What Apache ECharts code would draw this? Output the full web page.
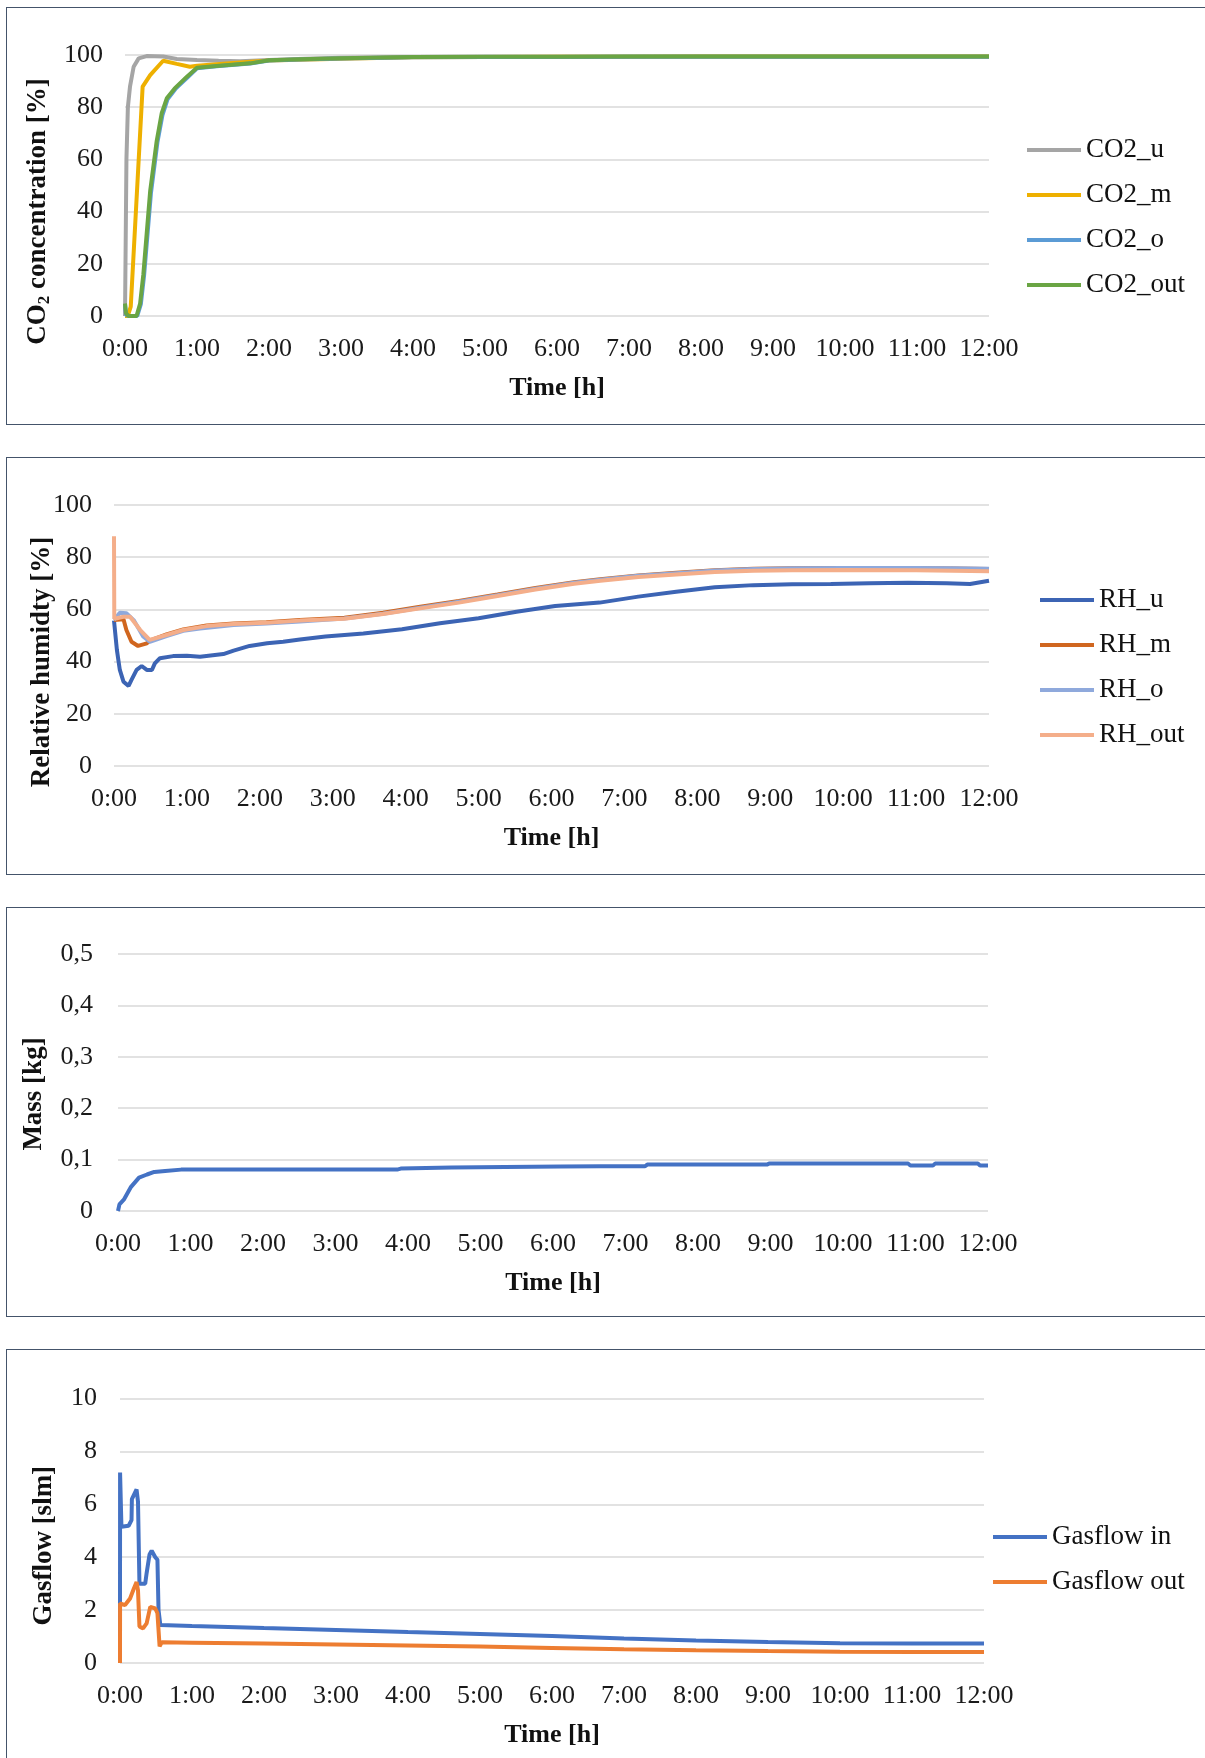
<!DOCTYPE html>
<html>
<head>
<meta charset="utf-8">
<script src="https://cdn.jsdelivr.net/npm/echarts@6/dist/echarts.min.js"></script>
<style>
  html, body { margin: 0; padding: 0; background: #fff; overflow: hidden; }
  .box { position: absolute; left: 6px; width: 1220px; border: 1.5px solid #44546a; box-sizing: border-box; }
  #chart { position: absolute; left: 0; top: 0; width: 1205px; height: 1758px; }
</style>
</head>
<body>
<div class="box" style="top:7px;height:418px;"></div>
<div class="box" style="top:457px;height:418px;"></div>
<div class="box" style="top:907px;height:410px;"></div>
<div class="box" style="top:1349px;height:430px;"></div>
<div id="chart"></div>
<script>
// ---------- time axis ticks (hours) ----------
const timeTicks = [0,1,2,3,4,5,6,7,8,9,10,11,12];
const timeLabels = ['0:00','1:00','2:00','3:00','4:00','5:00','6:00','7:00','8:00','9:00','10:00','11:00','12:00'];

// ---------- CO2 concentration [%] ----------
const co2uT = [0, 0.01, 0.02, 0.04, 0.07, 0.12, 0.19, 0.3, 0.53, 0.72, 1.0, 1.3, 1.6, 2.0, 2.5, 3.0, 4.0, 5, 6, 7, 8, 9, 10, 11, 12];
const co2uV = [0, 0, 60, 80, 88, 95.5, 98.7, 99.6, 99.4, 98.5, 98.1, 97.8, 97.6, 98.1, 98.6, 98.9, 99.2, 99.3, 99.3, 99.3, 99.4, 99.4, 99.4, 99.4, 99.4];
const co2mT = [0, 0.03, 0.05, 0.08, 0.245, 0.255, 0.35, 0.53, 0.72, 0.9, 1.0, 1.5, 2.0, 3.0, 4.0, 5, 6, 7, 8, 9, 10, 11, 12];
const co2mV = [0, 0, 1, 3.6, 87.9, 88.5, 92.3, 97.8, 96.6, 95.5, 95.9, 96.9, 97.9, 98.6, 99.1, 99.2, 99.3, 99.3, 99.4, 99.4, 99.4, 99.4, 99.4];
const co2oT = [0, 0.014, 0.05, 0.17, 0.22, 0.265, 0.36, 0.45, 0.52, 0.59, 0.7, 0.87, 1.0, 1.27, 1.74, 2.0, 2.43, 3.0, 4, 5, 6, 7, 8, 9, 10, 11, 12];
const co2oV = [4.5, 0.5, 0, 0, 4.5, 15.5, 47, 66.5, 77, 83, 87, 91.5, 94.9, 95.7, 96.7, 97.9, 98.3, 98.7, 99.1, 99.2, 99.2, 99.3, 99.3, 99.3, 99.3, 99.3, 99.3];
const co2outT = [0, 0.014, 0.05, 0.16, 0.21, 0.255, 0.35, 0.44, 0.51, 0.58, 0.69, 0.86, 1.0, 1.27, 1.74, 2.0, 2.43, 3.0, 4, 5, 6, 7, 8, 9, 10, 11, 12];
const co2outV = [4.8, 1, 0, 0, 4.8, 16, 48, 67, 77.7, 83.4, 87.2, 91.7, 95.1, 95.8, 96.8, 98.0, 98.4, 98.8, 99.2, 99.3, 99.3, 99.4, 99.4, 99.4, 99.4, 99.4, 99.4];

// ---------- Relative humidity [%] ----------
const rhuT = [0, 0.04, 0.08, 0.13, 0.2, 0.24, 0.31, 0.38, 0.45, 0.52, 0.56, 0.63, 0.81, 1.0, 1.18, 1.5, 1.64, 1.86, 2.1, 2.32, 2.55, 2.9, 3.42, 3.95, 4.47, 5.0, 5.52, 6.05, 6.66, 7.19, 7.71, 8.24, 8.77, 9.3, 9.83, 10.36, 10.89, 11.42, 11.74, 12.0];
const rhuV = [55.7, 44.4, 36.8, 32.3, 30.7, 33, 36.8, 38.3, 36.8, 36.8, 39.3, 41.3, 42.1, 42.2, 41.9, 42.9, 44.2, 46, 47, 47.6, 48.5, 49.6, 50.8, 52.4, 54.7, 56.6, 59.1, 61.3, 62.6, 64.9, 66.8, 68.5, 69.3, 69.6, 69.7, 70.0, 70.2, 70.0, 69.7, 71.0];
const rhmT = [0, 0.13, 0.17, 0.24, 0.33, 0.45, 0.49, 0.72, 0.95, 1.27, 1.64, 2.09, 2.55, 3.16, 3.69, 4.2, 4.73, 5.26, 5.78, 6.31, 6.67, 7.19, 7.71, 8.24, 8.77, 9.3, 10, 11, 11.5, 12];
const rhmV = [55.9, 56.2, 52.1, 47.6, 46, 47, 48, 50.4, 52.3, 53.8, 54.6, 55.1, 55.9, 56.8, 58.7, 61, 63.2, 65.7, 68.2, 70.4, 71.6, 73, 74, 75, 75.6, 75.8, 75.9, 75.8, 75.7, 75.5];
const rhoT = [0, 0.08, 0.17, 0.27, 0.4, 0.49, 0.72, 0.95, 1.18, 1.64, 2.09, 2.55, 3.16, 3.69, 4.2, 4.73, 5.26, 5.78, 6.31, 6.67, 7.19, 7.71, 8.24, 8.77, 9.3, 10, 11, 11.5, 12];
const rhoV = [55.9, 58.7, 58.5, 55.9, 49.6, 47.6, 49.8, 51.8, 52.7, 54, 54.6, 55.4, 56.5, 58.3, 60.6, 62.9, 65.4, 67.9, 70.2, 71.4, 72.9, 73.9, 74.9, 75.5, 75.8, 75.9, 75.9, 75.8, 75.6];
const rhoutT = [0, 0.004, 0.04, 0.13, 0.22, 0.36, 0.49, 0.72, 0.95, 1.27, 1.64, 2.09, 2.55, 3.16, 3.69, 4.2, 4.73, 5.26, 5.78, 6.31, 6.67, 7.19, 7.71, 8.24, 8.77, 9.3, 10, 11, 11.5, 12];
const rhoutV = [88, 56.5, 56.6, 57.2, 57.2, 52.1, 48.3, 50.2, 52.1, 53.6, 54.4, 54.9, 55.7, 56.4, 58.2, 60.4, 62.6, 65.1, 67.6, 69.8, 71.0, 72.4, 73.4, 74.3, 74.8, 75.0, 75.1, 75.0, 74.8, 74.6];

// ---------- Mass [kg] ----------
const massT = [0, 0.02, 0.08, 0.18, 0.29, 0.4, 0.5, 0.65, 0.87, 1.5, 2.5, 3.5, 3.85, 3.9, 4.6, 5.34, 6.1, 6.66, 7.27, 7.3, 8.95, 8.98, 10.9, 10.93, 11.24, 11.27, 11.86, 11.89, 12];
const massV = [0, 0.013, 0.022, 0.047, 0.065, 0.071, 0.076, 0.078, 0.0805, 0.0805, 0.0805, 0.0805, 0.0805, 0.0825, 0.0845, 0.0857, 0.0864, 0.087, 0.087, 0.0903, 0.0903, 0.0922, 0.0922, 0.0883, 0.0883, 0.0922, 0.0922, 0.0885, 0.0885];

// ---------- Gasflow [slm] ----------
const gasInT = [0, 0.001, 0.02, 0.12, 0.16, 0.165, 0.23, 0.25, 0.27, 0.35, 0.37, 0.41, 0.44, 0.49, 0.52, 0.535, 0.56, 1, 2, 3, 4, 5, 6, 7, 8, 9, 10, 11, 12];
const gasInV = [0, 7.2, 5.15, 5.19, 5.4, 6.2, 6.56, 6.1, 3.0, 3.0, 3.4, 4.1, 4.25, 4.0, 3.9, 2.0, 1.44, 1.40, 1.32, 1.25, 1.17, 1.10, 1.02, 0.93, 0.85, 0.79, 0.75, 0.74, 0.74];
const gasOutT = [0, 0.001, 0.07, 0.14, 0.19, 0.23, 0.25, 0.27, 0.32, 0.37, 0.42, 0.49, 0.52, 0.55, 0.58, 1, 2, 3, 4, 5, 6, 7, 8, 9, 10, 11, 12];
const gasOutV = [0, 2.25, 2.19, 2.44, 2.8, 3.06, 2.75, 1.38, 1.31, 1.5, 2.12, 2.06, 1.88, 0.63, 0.78, 0.77, 0.74, 0.70, 0.66, 0.62, 0.57, 0.52, 0.48, 0.45, 0.43, 0.42, 0.42];

// ---------- build ----------
const FONT = '"Liberation Serif", "Times New Roman", serif';
const pairs = (t, v) => t.map((x, i) => [x, v[i]]);
const timeFmt = v => { const i = timeTicks.indexOf(Math.round(v)); return i >= 0 ? timeLabels[i] : ''; };

function xAxis(gi) {
  return {
    type: 'value', gridIndex: gi, min: 0, max: 12, interval: 1,
    axisLine: { show: false }, axisTick: { show: false }, splitLine: { show: false },
    axisLabel: { formatter: timeFmt, fontFamily: FONT, fontSize: 26, color: '#1a1a1a', margin: 20 },
    name: 'Time [h]', nameLocation: 'middle', nameGap: 59, nameMoveOverlap: false,
    nameTextStyle: { fontFamily: FONT, fontSize: 26, fontWeight: 'bold', color: '#111' }
  };
}
function yAxis(gi, max, interval, name, gap, shift, margin, fmt, rich) {
  const o = {
    type: 'value', gridIndex: gi, min: 0, max: max, interval: interval,
    axisLine: { show: false }, axisTick: { show: false },
    splitLine: { show: true, lineStyle: { color: '#d9d9d9', width: 1.5 } },
    axisLabel: { fontFamily: FONT, fontSize: 26, color: '#1a1a1a', margin: margin },
    name: name, nameLocation: 'middle', nameGap: gap, nameRotate: 90, nameMoveOverlap: false,
    nameTextStyle: { fontFamily: FONT, fontSize: 27, fontWeight: 'bold', color: '#111', padding: [0, shift, 0, 0] }
  };
  if (fmt) o.axisLabel.formatter = fmt;
  if (rich) o.nameTextStyle.rich = rich;
  return o;
}
function line(name, gi, t, v, color) {
  return {
    name: name, type: 'line', xAxisIndex: gi, yAxisIndex: gi,
    data: pairs(t, v), showSymbol: false, symbol: 'none',
    lineStyle: { color: color, width: 4 }, itemStyle: { color: color },
    animation: false
  };
}
function legend(names, left, top) {
  return {
    data: names, orient: 'vertical', left: left, top: top,
    icon: 'rect', itemWidth: 54, itemHeight: 4, itemGap: 15,
    textStyle: { fontFamily: FONT, fontSize: 27, color: '#111', lineHeight: 30 }
  };
}

const co2Rich = {
  a: { fontFamily: FONT, fontSize: 27, fontWeight: 'bold', color: '#111', lineHeight: 30, verticalAlign: 'middle' },
  b: { fontFamily: FONT, fontSize: 17, fontWeight: 'bold', color: '#111', lineHeight: 10, verticalAlign: 'bottom' }
};

const option = {
  backgroundColor: 'transparent',
  animation: false,
  grid: [
    { left: 125, right: 216, top: 55, height: 261 },
    { left: 114, right: 216, top: 505, height: 261 },
    { left: 118, right: 217, top: 954, height: 257 },
    { left: 120, right: 221, top: 1398.5, height: 264.5 }
  ],
  xAxis: [xAxis(0), xAxis(1), xAxis(2), xAxis(3)],
  yAxis: [
    yAxis(0, 100, 20, '{a|CO}{b|2}{a| concentration [%]}', 72, 52, 22, null, co2Rich),
    yAxis(1, 100, 20, 'Relative humidty [%]', 58, 53, 22),
    yAxis(2, 0.5, 0.1, 'Mass [kg]', 70, 23, 25, v => v === 0 ? '0' : v.toFixed(1).replace('.', ',')),
    yAxis(3, 10, 2, 'Gasflow [slm]', 62, 30, 23)
  ],
  legend: [
    legend(['CO2_u', 'CO2_m', 'CO2_o', 'CO2_out'], 1022, 130),
    legend(['RH_u', 'RH_m', 'RH_o', 'RH_out'], 1035, 580),
    legend(['Gasflow in', 'Gasflow out'], 988, 1517)
  ],
  series: [
    line('CO2_u', 0, co2uT, co2uV, '#a5a5a5'),
    line('CO2_m', 0, co2mT, co2mV, '#eeb000'),
    line('CO2_o', 0, co2oT, co2oV, '#5b9bd5'),
    line('CO2_out', 0, co2outT, co2outV, '#6aa544'),
    line('RH_u', 1, rhuT, rhuV, '#3c64b4'),
    line('RH_m', 1, rhmT, rhmV, '#d0661f'),
    line('RH_o', 1, rhoT, rhoV, '#8fa9dc'),
    line('RH_out', 1, rhoutT, rhoutV, '#f4ae8a'),
    line('Mass', 2, massT, massV, '#4472c4'),
    line('Gasflow in', 3, gasInT, gasInV, '#4472c4'),
    line('Gasflow out', 3, gasOutT, gasOutV, '#ed7d31')
  ]
};

const chart = echarts.init(document.getElementById('chart'), null, { renderer: 'canvas', width: 1205, height: 1758 });
chart.setOption(option);
</script>
</body>
</html>
